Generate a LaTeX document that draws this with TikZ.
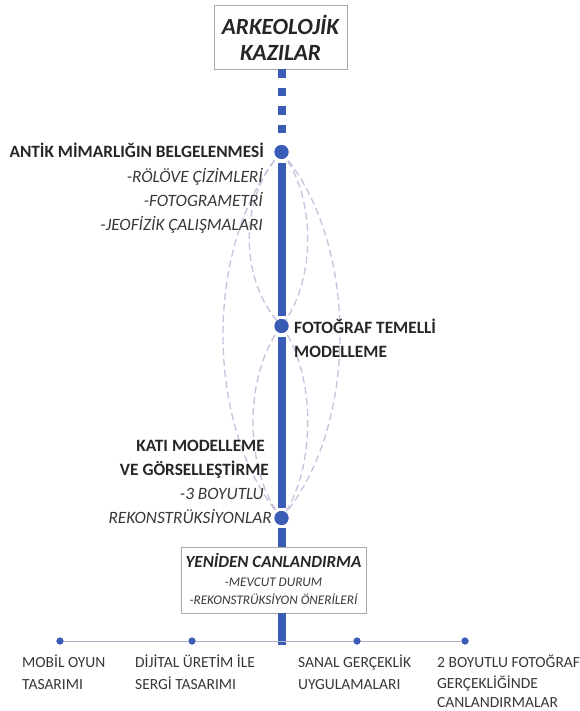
\documentclass[tikz,border=0pt]{standalone}
\usepackage{fontspec}
\setmainfont{Carlito}
\usetikzlibrary{calc}
\definecolor{mblue}{RGB}{58,92,182}
\definecolor{lav}{RGB}{198,194,222}
\definecolor{txt}{RGB}{38,38,38}
\definecolor{txti}{RGB}{55,55,55}
\definecolor{boxgray}{RGB}{170,170,170}
\definecolor{hline}{RGB}{176,180,196}
\begin{document}
\begin{tikzpicture}[x=1pt,y=-1pt,
  dot/.style={circle,fill=mblue,inner sep=0,minimum size=14pt},
  sdot/.style={circle,fill=mblue,inner sep=0,minimum size=7pt},
  mainline/.style={draw=mblue,line width=8pt},
  lens/.style={draw=lav,line width=1.3pt,dash pattern=on 7pt off 4pt},
  boldlbl/.style={font=\fontsize{17.3}{20}\selectfont\bfseries,text=txt,inner sep=0},
  itlbl/.style={font=\fontsize{17.3}{20}\selectfont\itshape,text=txti,inner sep=0},
  botlbl/.style={font=\fontsize{15.5}{20}\selectfont,text=txti,inner sep=0,anchor=base west},
  framebox/.style={draw=boxgray,line width=0.8pt,fill=white,inner sep=0},
]
\useasboundingbox (0,0) rectangle (580,711);

% title box
\node[framebox,minimum width=133pt,minimum height=64pt] (title) at (280.5,37) {};
\node[font=\fontsize{23.2}{26}\selectfont\bfseries\itshape,text=txt,inner sep=0,anchor=base] (t1) at (280.5,34.5) {ARKEOLOJİK};
\node[font=\fontsize{23.2}{26}\selectfont\bfseries\itshape,text=txt,inner sep=0,anchor=base] (t2) at (280.5,61) {KAZILAR};

% dots
\node[dot] (d1) at (281.5,152) {};
\node[dot] (d2) at (281.5,326) {};
\node[dot] (d3) at (281.5,518) {};

% dashed lenses
\draw[lens] (d1.center) .. controls (203.5,242) and (203.5,428) .. (d3.center);
\draw[lens] (d1.center) .. controls (359.5,242) and (359.5,428) .. (d3.center);
\draw[lens] (d1.center) .. controls (238.5,197) and (238.5,281) .. (d2.center);
\draw[lens] (d1.center) .. controls (316.5,197) and (316.5,281) .. (d2.center);
\draw[lens] (d2.center) .. controls (243.5,374) and (243.5,470) .. (d3.center);
\draw[lens] (d2.center) .. controls (316.5,374) and (316.5,470) .. (d3.center);

% redraw dots on top
\node[dot] at (d1) {};
\node[dot] at (d2) {};
\node[dot] at (d3) {};

% yeniden canlandirma box
\node[framebox,minimum width=185pt,minimum height=66pt] (yb) at (273.5,580) {};
\node[font=\fontsize{17}{20}\selectfont\bfseries\itshape,text=txt,inner sep=0,anchor=base] (y1) at (273.5,567.5) {YENİDEN CANLANDIRMA};
\node[font=\fontsize{13.2}{16}\selectfont\itshape,text=txti,inner sep=0,anchor=base] (y2) at (273.5,586.5) {-MEVCUT DURUM};
\node[font=\fontsize{13.2}{16}\selectfont\itshape,text=txti,inner sep=0,anchor=base] (y3) at (273.5,604.5) {-REKONSTRÜKSİYON ÖNERİLERİ};

% main line
\coordinate (tb) at (281.5,69.5);
\coordinate (bend) at (281.5,645);
\draw[mainline,dash pattern=on 8.5pt off 10pt] (tb) -- ($(d1)+(0,-9)$);
\draw[mainline] ($(d1)+(0,11)$) -- ($(d2)+(0,-10)$);
\draw[mainline] ($(d2)+(0,11)$) -- ($(d3)+(0,-10)$);
\draw[mainline] ($(d3)+(0,10)$) -- (yb.north -| d3);
\draw[mainline] (yb.south -| d3) -- (bend);

% bottom branch
\node[sdot] (b1) at (60,641) {};
\node[sdot] (b2) at (192,641) {};
\node[sdot] (b3) at (357,641) {};
\node[sdot] (b4) at (465,641) {};
\draw[hline,line width=0.9pt] (b1) -- (b2) -- (b3) -- (b4);
\node[sdot] at (b1) {};
\node[sdot] at (b2) {};
\node[sdot] at (b3) {};
\node[sdot] at (b4) {};

% top group labels
\node[boldlbl,anchor=base east] (a1) at (264,157.5) {ANTİK MİMARLIĞIN BELGELENMESİ};
\node[itlbl,anchor=base east] (a2) at (263,182.5) {-RÖLÖVE ÇİZİMLERİ};
\node[itlbl,anchor=base east] (a3) at (263,206.5) {-FOTOGRAMETRİ};
\node[itlbl,anchor=base east] (a4) at (263,230) {-JEOFİZİK ÇALIŞMALARI};

% middle group labels
\node[boldlbl,anchor=base west] (m1) at (294,333.5) {FOTOĞRAF TEMELLİ};
\node[boldlbl,anchor=base west] (m2) at (294,357.5) {MODELLEME};

% lower group labels
\node[boldlbl,anchor=base east] (k1) at (265,451.5) {KATI MODELLEME};
\node[boldlbl,anchor=base east] (k2) at (269,475.5) {VE GÖRSELLEŞTİRME};
\node[itlbl,anchor=base east] (k3) at (264,499) {-3 BOYUTLU};
\node[itlbl,anchor=base east] (k4) at (272,523) {REKONSTRÜKSİYONLAR};

% bottom labels
\node[botlbl] (l1a) at (22,667) {MOBİL OYUN};
\node[botlbl] (l1b) at (22,689) {TASARIMI};
\node[botlbl] (l2a) at (135,667) {DİJİTAL ÜRETİM İLE};
\node[botlbl] (l2b) at (135,689) {SERGİ TASARIMI};
\node[botlbl] (l3a) at (298,667) {SANAL GERÇEKLİK};
\node[botlbl] (l3b) at (298,689) {UYGULAMALARI};
\node[botlbl] (l4a) at (437,667) {2 BOYUTLU FOTOĞRAF};
\node[botlbl] (l4b) at (437,688.5) {GERÇEKLİĞİNDE};
\node[botlbl] (l4c) at (437,707) {CANLANDIRMALAR};
\end{tikzpicture}
\end{document}
